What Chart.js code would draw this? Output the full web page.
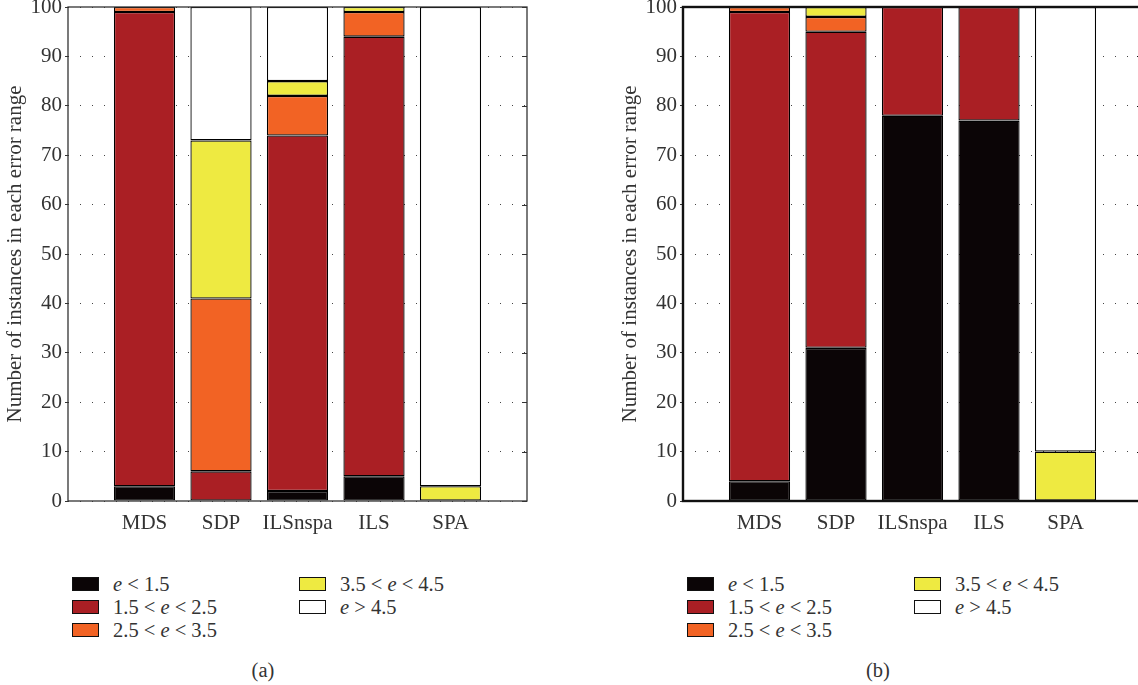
<!DOCTYPE html>
<html>
<head>
<meta charset="utf-8">
<script src="https://cdn.jsdelivr.net/npm/chart.js@4.4.1/dist/chart.umd.min.js"></script>
<style>
  html, body { margin: 0; padding: 0; background: #fff; overflow: hidden; }
  body { width: 1138px; height: 685px; position: relative; font-family: "Liberation Serif", "DejaVu Serif", serif; color: #333; }
  .panel { position: absolute; top: 0; width: 560px; height: 685px; }
  .panel canvas { position: absolute; left: 0; top: 0; }
  .leg { position: absolute; font-size: 20.5px; line-height: 22px; white-space: nowrap; }
  .leg .box { position: absolute; width: 25px; height: 12px; border: 1px solid #111; }
  .leg .txt { position: absolute; top: -4px; }
  .cap { position: absolute; top: 659px; font-size: 20.5px; width: 60px; text-align: center; }
</style>
</head>
<body>
<div class="panel" id="pa" style="left:0px"><canvas id="chartA" width="560" height="540"></canvas></div>
<div class="panel" id="pb" style="left:615px"><canvas id="chartB" width="560" height="540"></canvas></div>
<script>
// categories and error ranges
const categories = ['MDS', 'SDP', 'ILSnspa', 'ILS', 'SPA'];
const rangeNames = ['e < 1.5', '1.5 < e < 2.5', '2.5 < e < 3.5', '3.5 < e < 4.5', 'e > 4.5'];
const yTicks = [0, 10, 20, 30, 40, 50, 60, 70, 80, 90, 100];

// (a)
const aLt15   = [3, 0, 2, 5, 0];
const a15to25 = [96, 6, 72, 89, 0];
const a25to35 = [1, 35, 8, 5, 0];
const a35to45 = [0, 32, 3, 1, 3];
const aGt45   = [0, 27, 15, 0, 97];

// (b)
const bLt15   = [4, 31, 78, 77, 0];
const b15to25 = [95, 64, 22, 23, 0];
const b25to35 = [1, 3, 0, 0, 0];
const b35to45 = [0, 2, 0, 0, 10];
const bGt45   = [0, 0, 0, 0, 90];

const colors = ['#0b0506', '#aa1f24', '#f26324', '#eeea41', '#ffffff'];
const FONT = '"Liberation Serif", "DejaVu Serif", serif';
const FSIZE = 21;

// frame round the plot + inward ticks on the right side
const framePlugin = {
  id: 'frame',
  afterDatasetsDraw(chart, args, opts) {
    const a = chart.chartArea;
    const ctx = chart.ctx;
    const y = chart.scales.y;
    ctx.save();
    ctx.strokeStyle = opts.color;
    ctx.lineWidth = 1;
    yTicks.forEach(t => {
      const py = Math.round(y.getPixelForValue(t)) + 0.5;
      ctx.beginPath();
      ctx.moveTo(a.right - 5, py);
      ctx.lineTo(a.right, py);
      ctx.stroke();
    });
    ctx.lineWidth = opts.width;
    ctx.strokeRect(a.left, a.top, a.right - a.left, a.bottom - a.top);
    ctx.restore();
  }
};

function makeChart(id, series, frameWidth, frameColor) {
  // one empty slot each side, like the original x range -1..5
  const labels = [''].concat(categories, ['']);
  const datasets = series.map((vals, i) => ({
    label: rangeNames[i],
    data: [null].concat(vals.map(v => v || null), [null]),
    backgroundColor: colors[i],
    borderColor: '#000',
    borderWidth: 1.3,
    borderSkipped: false,
    barPercentage: 0.8,
    categoryPercentage: 1
  }));

  return new Chart(document.getElementById(id), {
    type: 'bar',
    data: { labels, datasets },
    plugins: [framePlugin],
    options: {
      responsive: false,
      animation: false,
      layout: { padding: { top: 7, right: 33, left: 0, bottom: 0 } },
      plugins: {
        legend: { display: false },
        tooltip: { enabled: false },
        frame: { width: frameWidth, color: frameColor }
      },
      scales: {
        x: {
          stacked: true,
          offset: false,
          grid: { display: false },
          border: { display: false },
          ticks: { color: '#333', font: { family: FONT, size: FSIZE }, padding: 2, maxRotation: 0, autoSkip: false },
          afterFit: s => { s.height = 39; }
        },
        y: {
          stacked: true,
          min: 0,
          max: 100,
          afterBuildTicks: s => { s.ticks = yTicks.map(v => ({ value: v })); },
          grid: { color: '#444', lineWidth: 1, drawTicks: true, tickLength: 3, tickColor: '#333' },
          border: { display: false, dash: [1, 11] },
          ticks: { color: '#333', font: { family: FONT, size: FSIZE }, padding: 3 },
          title: {
            display: true,
            text: 'Number of instances in each error range',
            color: '#333',
            font: { family: FONT, size: FSIZE },
            padding: { top: 3, bottom: 0 }
          },
          afterFit: s => { s.width = 68; s.paddingTop = 0; s.paddingBottom = 0; }
        }
      }
    }
  });
}

makeChart('chartA', [aLt15, a15to25, a25to35, a35to45, aGt45], 1.3, '#333');
makeChart('chartB', [bLt15, b15to25, b25to35, b35to45, bGt45], 2.4, '#111');

// legend in two columns + caption
function legendHtml(name) {
  return name.replace(/</g, '&lt;').replace(/>/g, '&gt;').replace(/\be\b/, '<i>e</i>');
}
function buildLegend(panelId, caption) {
  const panel = document.getElementById(panelId);
  const slots = [[72, 584], [72, 607], [72, 630], [299, 584], [299, 607]];
  rangeNames.forEach((n, i) => {
    const d = document.createElement('div');
    d.className = 'leg';
    d.style.left = slots[i][0] + 'px';
    d.style.top = (slots[i][1] - 7) + 'px';
    d.innerHTML = `<span class="box" style="background:${colors[i]}"></span><span class="txt" style="left:41px">${legendHtml(n)}</span>`;
    panel.appendChild(d);
  });
  const c = document.createElement('div');
  c.className = 'cap';
  c.style.left = '233px';
  c.textContent = caption;
  panel.appendChild(c);
}
buildLegend('pa', '(a)');
buildLegend('pb', '(b)');
</script>
</body>
</html>
